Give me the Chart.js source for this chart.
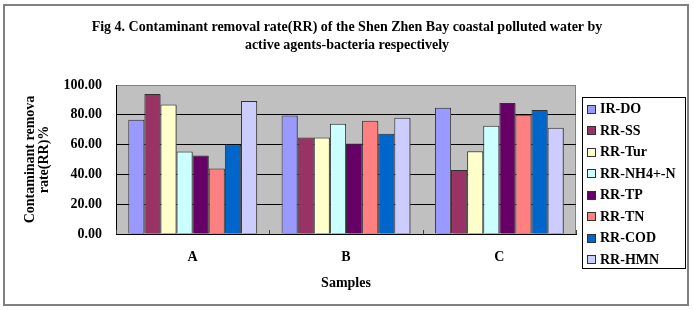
<!DOCTYPE html>
<html>
<head>
<meta charset="utf-8">
<script src="https://cdn.jsdelivr.net/npm/chart.js@4.4.1/dist/chart.umd.min.js"></script>
<style>
  html, body { margin: 0; padding: 0; background: #fff; }
  #wrap { width: 694px; height: 310px; position: relative; }
</style>
</head>
<body>
<div id="wrap"><canvas id="c" width="694" height="310"></canvas></div>
<script>
// ---- data ----
const categories = ['A', 'B', 'C'];
const seriesNames = ['IR-DO', 'RR-SS', 'RR-Tur', 'RR-NH4+-N', 'RR-TP', 'RR-TN', 'RR-COD', 'RR-HMN'];
const irDO   = [76.7, 79.5, 84.7];
const rrSS   = [94.0, 64.7, 42.9];
const rrTur  = [86.9, 64.7, 55.5];
const rrNH4  = [55.3, 74.0, 72.7];
const rrTP   = [52.7, 60.7, 88.0];
const rrTN   = [44.0, 76.0, 80.0];
const rrCOD  = [60.0, 67.3, 83.3];
const rrHMN  = [89.3, 78.0, 71.3];
const seriesValues = [irDO, rrSS, rrTur, rrNH4, rrTP, rrTN, rrCOD, rrHMN];
const seriesColors = ['#9999FF', '#993366', '#FFFFCC', '#CCFFFF', '#660066', '#FF8080', '#0066CC', '#CCCCFF'];
const titleLines = ['Fig 4. Contaminant removal rate(RR) of the Shen Zhen Bay coastal polluted water by', 'active agents-bacteria respectively'];
const yTitleLines = ['Contaminant remova', 'rate(RR)%'];
const xTitle = 'Samples';

const FONT = '"Liberation Serif", "Times New Roman", serif';

const datasets = seriesNames.map((name, i) => ({
  label: name,
  data: seriesValues[i],
  backgroundColor: seriesColors[i],
  borderColor: '#303030',
  borderWidth: 1,
  categoryPercentage: 0.84,
  barPercentage: 1.0
}));

const framePlugin = {
  id: 'framePlugin',
  beforeDraw(chart) {
    const ctx = chart.ctx;
    const a = chart.chartArea;
    ctx.save();
    ctx.fillStyle = '#fff';
    ctx.fillRect(0, 0, chart.width, chart.height);
    // outer frame
    ctx.strokeStyle = '#808080';
    ctx.lineWidth = 2;
    ctx.strokeRect(4, 5, 684, 300);
    // plot area
    ctx.fillStyle = '#C0C0C0';
    ctx.fillRect(a.left, a.top, a.right - a.left, a.bottom - a.top);
    ctx.strokeStyle = '#808080';
    ctx.lineWidth = 1;
    ctx.strokeRect(a.left + 0.5, a.top + 0.5, a.right - a.left - 1, a.bottom - a.top);
    // title
    ctx.fillStyle = '#000';
    ctx.font = 'bold 14px ' + FONT;
    ctx.textAlign = 'center';
    ctx.textBaseline = 'middle';
    ctx.fillText(titleLines[0], 347, 27);
    ctx.fillText(titleLines[1], 347, 45);
    ctx.restore();
  },
  beforeDatasetsDraw(chart) {
    const ctx = chart.ctx;
    ctx.save();
    ctx.shadowColor = 'rgba(90,90,90,0.85)';
    ctx.shadowOffsetX = 2;
    ctx.shadowOffsetY = 1;
    ctx.shadowBlur = 0;
  },
  afterDatasetsDraw(chart) {
    chart.ctx.restore();
  },
  afterDraw(chart) {
    const ctx = chart.ctx;
    const a = chart.chartArea;
    const xs = chart.scales.x;
    ctx.save();
    // category boundary tick marks (inward)
    ctx.strokeStyle = '#404040';
    ctx.lineWidth = 1;
    const half = (xs.getPixelForValue(1) - xs.getPixelForValue(0)) / 2;
    for (let i = 0; i <= categories.length; i++) {
      const x = Math.round(xs.getPixelForValue(0) - half + i * 2 * half) + 0.5;
      ctx.beginPath();
      ctx.moveTo(x, a.bottom);
      ctx.lineTo(x, a.bottom - 4);
      ctx.stroke();
    }
    // legend
    ctx.strokeStyle = '#000';
    ctx.lineWidth = 1;
    ctx.strokeRect(582.5, 97.5, 103, 171);
    ctx.font = 'bold 14px ' + FONT;
    ctx.textAlign = 'left';
    ctx.textBaseline = 'middle';
    chart.data.datasets.forEach((ds, i) => {
      const y = 108.5 + i * 21.55;
      ctx.fillStyle = ds.backgroundColor;
      ctx.fillRect(587, Math.round(y - 4), 9, 9);
      ctx.strokeStyle = '#303030';
      ctx.strokeRect(587.5, Math.round(y - 4) + 0.5, 8, 8);
      ctx.fillStyle = '#000';
      ctx.fillText(ds.label, 600, y + 1);
    });
    ctx.restore();
  }
};

new Chart(document.getElementById('c'), {
  type: 'bar',
  data: { labels: categories, datasets },
  options: {
    responsive: false,
    animation: false,
    devicePixelRatio: 1,
    layout: { padding: { left: 0, right: 118, top: 85, bottom: 0 } },
    plugins: {
      legend: { display: false },
      title: { display: false },
      tooltip: { enabled: false }
    },
    scales: {
      x: {
        grid: { display: false, drawTicks: false },
        border: { display: true, color: '#000', width: 1 },
        ticks: { color: '#000', font: { family: FONT, size: 14, weight: 'bold' }, padding: 15 },
        title: { display: true, text: xTitle, color: '#000', font: { family: FONT, size: 14, weight: 'bold', lineHeight: 1.2 }, padding: { top: 0, bottom: 18 } },
        afterFit(s) { s.height = 76; }
      },
      y: {
        min: 0, max: 100,
        grid: {
          drawTicks: false,
          color: (c) => (c.tick && c.tick.value === 100) ? 'rgba(0,0,0,0)' : '#000',
          lineWidth: 1
        },
        border: { display: true, color: '#000', width: 1 },
        ticks: {
          stepSize: 20, color: '#000', padding: 14,
          font: { family: FONT, size: 14, weight: 'bold' },
          callback: (v) => Number(v).toFixed(2)
        },
        title: { display: true, text: yTitleLines, color: '#000', font: { family: FONT, size: 14, weight: 'bold', lineHeight: 1.0 }, padding: { top: 23, bottom: 0 } },
        afterFit(s) { s.width = 116; }
      }
    }
  },
  plugins: [framePlugin]
});
</script>
</body>
</html>
